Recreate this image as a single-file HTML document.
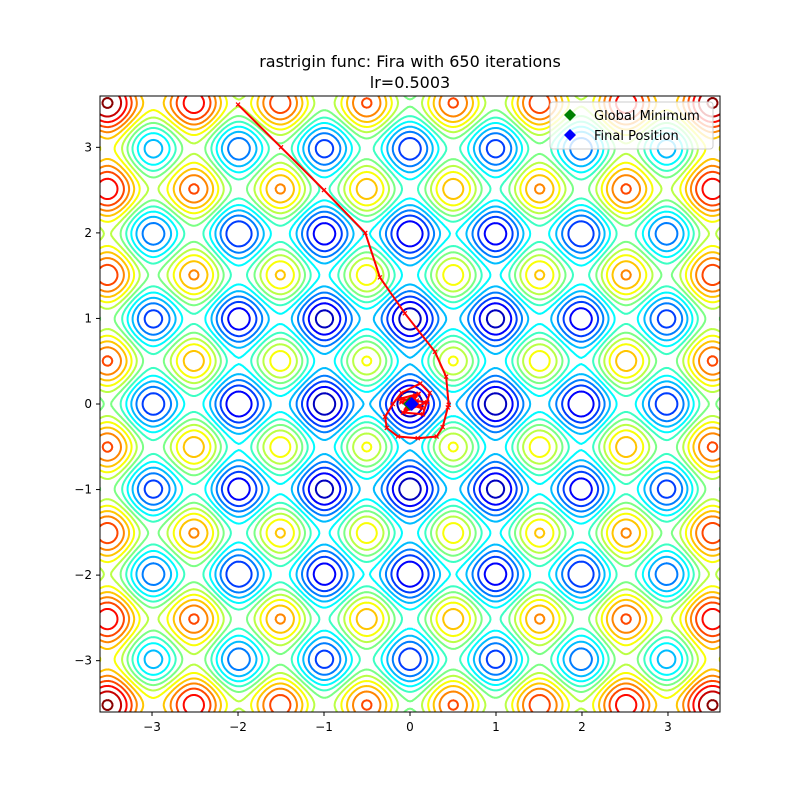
<!DOCTYPE html>
<html><head><meta charset="utf-8"><style>
body{margin:0;background:#fff;width:800px;height:800px;overflow:hidden;font-family:"Liberation Sans","DejaVu Sans",sans-serif}
svg text{font-family:"DejaVu Sans","Liberation Sans",sans-serif}
</style></head><body>
<svg id="chart" width="800" height="800" viewBox="0 0 800 800" xmlns="http://www.w3.org/2000/svg">
<text x="410" y="67" text-anchor="middle" font-size="16">rastrigin func: Fira with 650 iterations</text>
<text x="410" y="88" text-anchor="middle" font-size="16">lr=0.5003</text>
<defs><clipPath id="clip"><rect x="100" y="96" width="620" height="616"/></clipPath></defs>
<g id="contours" clip-path="url(#clip)"></g>
<g id="traj" clip-path="url(#clip)"></g>
<rect x="100" y="96" width="620" height="616" fill="none" stroke="#000" stroke-width="1"/>
<g id="axes"></g>
<g>
<rect x="550" y="102" width="163" height="47" rx="3" fill="#fff" fill-opacity="0.8" stroke="#ccc"/>
<path d="M570 109 L576 115 L570 121 L564 115Z" fill="green"/>
<text x="594" y="120" font-size="13">Global Minimum</text>
<path d="M570 129 L576 135 L570 141 L564 135Z" fill="blue"/>
<text x="594" y="140" font-size="13">Final Position</text>
</g>
</svg>
<script>
const ticks=[-3,-2,-1,0,1,2,3];
const levels=[3.95,7.95,11.95,15.95,19.95,23.95,27.95,31.95,35.95,39.95,43.95,47.95,51.95,55.95,59.95,63.95];
const trajX=[-2,-1.5,-1,-0.52,-0.35,-0.06,0.29,0.42,0.45,0.44,0.38,0.31,0.09,-0.14,-0.27,-0.29,-0.2,-0.1,0.12,0.23,0.15,-0.08,0.1,-0.12,0.2,-0.05,0.06,-0.1,0.14,0.02,-0.04,0.08,0.02];
const trajY=[3.5,3.0,2.5,2.0,1.48,1.06,0.61,0.32,-0.01,-0.04,-0.27,-0.38,-0.4,-0.38,-0.28,-0.15,0.0,0.13,0.24,0.13,-0.12,-0.1,0.12,0.06,0.02,-0.08,0.1,0.02,-0.05,0.08,-0.03,0.04,0.0];
const globalMin=[0,0];
const finalPos=[0.02,0.0];
const X0=-3.605,X1=3.605,Y0=-3.6,Y1=3.6;
const sx=v=>100+(v-X0)/(X1-X0)*620;
const sy=v=>712-(v-Y0)/(Y1-Y0)*616;
const NS='http://www.w3.org/2000/svg';
function mk(t,a,p){const e=document.createElementNS(NS,t);for(const k in a)e.setAttribute(k,a[k]);p.appendChild(e);return e;}
function jet(t){const r=Math.min(Math.max(Math.min(4*t-1.5,-4*t+4.5),0),1),g=Math.min(Math.max(Math.min(4*t-0.5,-4*t+3.5),0),1),b=Math.min(Math.max(Math.min(4*t+0.5,-4*t+2.5),0),1);return `rgb(${Math.round(r*255)},${Math.round(g*255)},${Math.round(b*255)})`;}
const f=(x,y)=>20+x*x-10*Math.cos(2*Math.PI*x)+y*y-10*Math.cos(2*Math.PI*y);
const N=300,Z=[];
for(let j=0;j<=N;j++){Z[j]=[];for(let i=0;i<=N;i++)Z[j][i]=f(X0+(X1-X0)*i/N,Y0+(Y1-Y0)*j/N);}
const cg=document.getElementById('contours');
const zmax=64.5;
levels.forEach(L=>{
 let d='';
 const px=(i)=>sx(X0+(X1-X0)*i/N), py=(j)=>sy(Y0+(Y1-Y0)*j/N);
 for(let j=0;j<N;j++)for(let i=0;i<N;i++){
  const a=Z[j][i],b=Z[j][i+1],c=Z[j+1][i+1],e=Z[j+1][i];
  const pts=[];
  if((a<L)!=(b<L)){const t=(L-a)/(b-a);pts.push([px(i+t),py(j)]);}
  if((b<L)!=(c<L)){const t=(L-b)/(c-b);pts.push([px(i+1),py(j+t)]);}
  if((e<L)!=(c<L)){const t=(L-e)/(c-e);pts.push([px(i+t),py(j+1)]);}
  if((a<L)!=(e<L)){const t=(L-a)/(e-a);pts.push([px(i),py(j+t)]);}
  for(let k=0;k+1<pts.length;k+=2)d+=`M${pts[k][0].toFixed(1)} ${pts[k][1].toFixed(1)}L${pts[k+1][0].toFixed(1)} ${pts[k+1][1].toFixed(1)}`;
 }
 const p=mk('path',{d:d,fill:'none',stroke:jet(L/zmax),'stroke-width':2,'stroke-linecap':'round'},cg);
 
 
});
const tg=document.getElementById('traj');
const line=mk('polyline',{points:trajX.map((x,k)=>sx(x)+','+sy(trajY[k])).join(' '),fill:'none',stroke:'red','stroke-width':2},tg);


trajX.forEach((x,k)=>{const X=sx(x),Y=sy(trajY[k]);
 const m=mk('path',{d:`M${X-2} ${Y-2}L${X+2} ${Y+2}M${X-2} ${Y+2}L${X+2} ${Y-2}`,stroke:'red','stroke-width':1.2},tg);
 
 });
function diamond(p,col,name){const X=sx(p[0]),Y=sy(p[1]);const m=mk('path',{d:`M${X} ${Y-7}L${X+7} ${Y}L${X} ${Y+7}L${X-7} ${Y}Z`,fill:col},tg);
 
 }
diamond(globalMin,'green','global-minimum-marker');
diamond(finalPos,'blue','final-position-marker');
const ag=document.getElementById('axes');
ticks.forEach(t=>{
 const lab=t<0?'\u2212'+Math.abs(t):''+t;
 mk('line',{x1:sx(t),x2:sx(t),y1:712,y2:716,stroke:'#000'},ag);
 const tx=mk('text',{x:sx(t),y:731,'text-anchor':'middle','font-size':12},ag);tx.textContent=lab;
 
 
 mk('line',{x1:96,x2:100,y1:sy(t),y2:sy(t),stroke:'#000'},ag);
 const ty=mk('text',{x:92,y:sy(t)+4,'text-anchor':'end','font-size':12},ag);ty.textContent=lab;
 
 
});
</script>
</body></html>
